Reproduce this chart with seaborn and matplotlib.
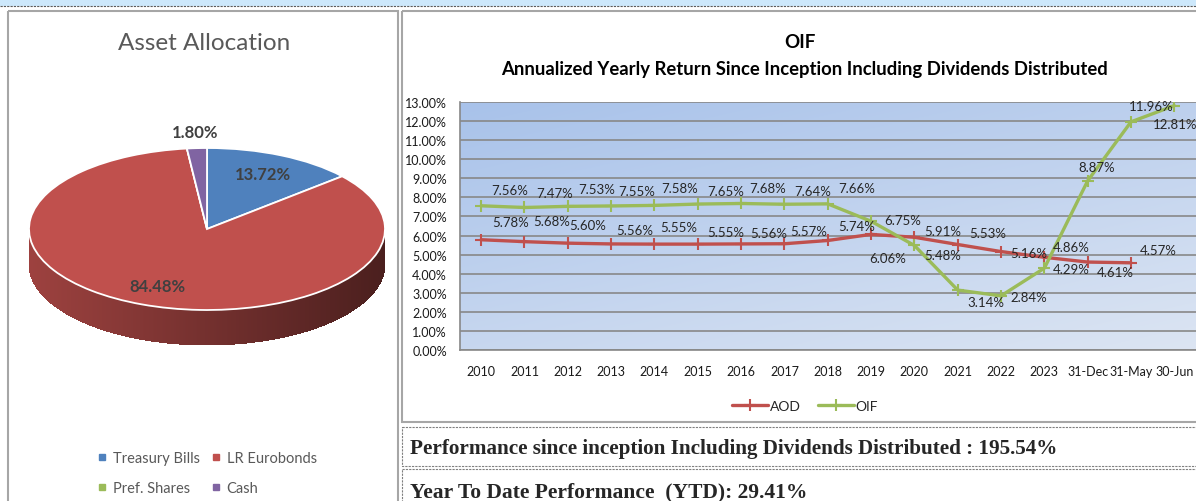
"""
    OIF factsheet panel: asset allocation pie and annualized return lines.
"""

import numpy as np
import pandas as pd
import matplotlib
matplotlib.use("Agg")
import matplotlib.pyplot as plt
import matplotlib.ticker as mtick
import matplotlib.patches as mpatches
import matplotlib.lines as mlines
from matplotlib.collections import PolyCollection
from matplotlib.colors import to_rgb
import seaborn as sns

# Asset allocation
assets = ['Treasury Bills', 'LR Eurobonds', 'Pref. Shares', 'Cash']
asset_share = [13.72, 84.48, 0.0, 1.80]
ASSET_COLORS = ['#4F81BD', '#C0504D', '#9BBB59', '#8064A2']

# Annualized yearly return since inception (%)
periods = ['2010', '2011', '2012', '2013', '2014', '2015', '2016', '2017', '2018',
           '2019', '2020', '2021', '2022', '2023', '31-Dec', '31-May', '30-Jun']
aod = [5.78, 5.68, 5.60, 5.56, 5.55, 5.55, 5.56, 5.57, 5.74,
       6.06, 5.91, 5.53, 5.16, 4.86, 4.61, 4.57, np.nan]
oif = [7.56, 7.47, 7.53, 7.55, 7.58, 7.65, 7.68, 7.64, 7.66,
       6.75, 5.48, 3.14, 2.84, 4.29, 8.87, 11.96, 12.81]
SERIES_COLORS = {'AOD': '#C0504D', 'OIF': '#9BBB59'}

perf_since_inception = 195.54
ytd_perf = 29.41

# label offsets in pixels (dx, dy downwards), Excel had them hand placed
AOD_OFFSETS = [(29, -18), (27, -21), (20, -18), (24, -14), (24, -17), (28, -12),
               (28, -11), (24, -13), (29, -14), (17, 24), (28, -6), (30, -12),
               (28, 1), (27, -10), (28, 10), (27, -13), (0, 0)]
OIF_OFFSETS = [(29, -16), (30, -14), (29, -17), (26, -15), (25, -17), (28, -13),
               (27, -15), (28, -13), (29, -16), (32, -1), (28, 10), (28, 12),
               (28, 1), (27, 1), (9, -14), (20, -16), (1, 18)]
PIE_LABEL_R = [0.75, 0.76, 0.0, 1.2]

sns.set_style("white")
plt.rcParams['font.family'] = ['Lato', 'DejaVu Sans']

W, H = 1196, 502


def px_box(x0, y0, x1, y1):
    return [x0 / W, 1 - y1 / H, (x1 - x0) / W, (y1 - y0) / H]


fig = plt.figure(figsize=(W / 100, H / 100), dpi=100)

# background layer in pixel coordinates
bg = fig.add_axes([0, 0, 1, 1])
bg.set_xlim(0, W)
bg.set_ylim(H, 0)
bg.axis('off')

bg.add_patch(mpatches.Rectangle((0, -2), W, 9, facecolor='#CDE8FB', edgecolor='none'))
bg.plot([0, W], [7, 7], color='#5A5A5A', lw=0.8, ls=(0, (2, 1)))
bg.add_patch(mpatches.Rectangle((8, 12), 390, 500, fill=False, edgecolor='#A6A6A6', lw=1.5))
bg.add_patch(mpatches.Rectangle((401.5, 12), 800, 411, fill=False, edgecolor='#A6A6A6', lw=1.5))
bg.add_patch(mpatches.Rectangle((402, 428), 800, 39, fill=False, edgecolor='#7F7F7F',
                                lw=0.8, ls=(0, (2, 1))))
bg.add_patch(mpatches.Rectangle((402, 470), 800, 40, fill=False, edgecolor='#7F7F7F',
                                lw=0.8, ls=(0, (2, 1))))

bg.text(204, 43, 'Asset Allocation', ha='center', va='center', fontsize=17.5, color='#595959')
bg.text(800, 42, 'OIF', ha='center', va='center', fontsize=13.5, fontweight='bold', color='black')
t_sub = bg.text(804, 70, 'Annualized Yearly Return Since Inception Including Dividends Distributed',
                ha='center', va='center', fontsize=12.5, fontweight='bold', color='black')

t_perf = bg.text(410, 454, f'Performance since inception Including Dividends Distributed : {perf_since_inception:.2f}%',
                 ha='left', va='baseline', fontsize=14, fontweight='bold', family='Liberation Serif')
t_ytd = bg.text(410, 497, f'Year To Date Performance  (YTD): {ytd_perf:.2f}%',
                ha='left', va='baseline', fontsize=14, fontweight='bold', family='Liberation Serif')


def fit_width(txt, target):
    w = txt.get_window_extent(renderer=fig.canvas.get_renderer()).width
    txt.set_fontsize(txt.get_fontsize() * target / w)


fit_width(t_sub, 607)
fit_width(t_perf, 653)
fit_width(t_ytd, 397)

# ---- 3D-ish pie ----
x0, y0, x1, y1 = 8, 90, 398, 380
cx, cy, rx, ry, depth = 207, 230, 178, 81, 35
ax_pie = fig.add_axes(px_box(x0, y0, x1, y1))
wedges, _ = ax_pie.pie(asset_share, colors=ASSET_COLORS, startangle=90, counterclock=False,
                       wedgeprops=dict(edgecolor='white', linewidth=1.3))
ax_pie.set_aspect('auto')
ax_pie.set_xlim((x0 - cx) / rx, (x1 - cx) / rx)
ax_pie.set_ylim((cy - y1) / ry, (cy - y0) / ry)

# side wall for the front half, shaded left to right
d = depth / ry
step = 0.5
polys, cols = [], []
for a in np.arange(180, 360, step):
    a1, a2 = np.radians(a), np.radians(a + step * 1.6)
    mid = a + step / 2
    base = ASSET_COLORS[1]
    for w, c in zip(wedges, ASSET_COLORS):
        if w.theta2 - w.theta1 > 0 and (mid - w.theta1) % 360 <= (w.theta2 - w.theta1):
            base = c
    shade = 0.82 - 0.43 * (np.cos(np.radians(mid)) + 1) / 2
    polys.append([(np.cos(a1), np.sin(a1)), (np.cos(a2), np.sin(a2)),
                  (np.cos(a2), np.sin(a2) - d), (np.cos(a1), np.sin(a1) - d)])
    cols.append(tuple(np.array(to_rgb(base)) * shade))
ax_pie.add_collection(PolyCollection(polys, facecolors=cols, edgecolors='none', lw=0,
                                     antialiased=False, zorder=0.5))

for w, v, r in zip(wedges, asset_share, PIE_LABEL_R):
    if v <= 0:
        continue
    mid = np.radians((w.theta1 + w.theta2) / 2)
    ax_pie.text(r * np.cos(mid), r * np.sin(mid), f'{v:.2f}%', ha='center', va='center',
                fontsize=12, fontweight='bold', color='#404040')

pie_handles = [mlines.Line2D([], [], marker='s', ls='none', markersize=4.5,
                             color=c, label=n) for n, c in zip(assets, ASSET_COLORS)]
order = [0, 2, 1, 3]
fig.legend(handles=[pie_handles[i] for i in order], ncol=2, loc='center',
           bbox_to_anchor=(207 / W, 1 - 474 / H), frameon=False, fontsize=10.5,
           labelcolor='#595959', handlelength=0.6, handletextpad=0.45,
           columnspacing=0.8, labelspacing=1.05)

# ---- line chart ----
ax = fig.add_axes(px_box(459.5, 103, 1196, 351))
grad_y = np.linspace(1, 0, 200)[:, None]
grad_x = np.linspace(0, 1, 300)[None, :]
wgt = 0.6 * grad_y + 0.4 * (1 - grad_x)
light = np.array(to_rgb('#DCE5F3'))
dark = np.array(to_rgb('#A8C2EA'))
img = light + (dark - light) * wgt[..., None]
ax.imshow(img, extent=[0, 1, 0, 1], transform=ax.transAxes, aspect='auto', zorder=-1)

df = pd.DataFrame({'pos': np.arange(len(periods)), 'AOD': aod, 'OIF': oif})
long = df.melt(id_vars='pos', var_name='Series', value_name='Return').dropna()

sns.lineplot(data=long, x='pos', y='Return', hue='Series', palette=SERIES_COLORS,
             marker='+', markersize=9, linewidth=2.4, legend=False, ax=ax)
for ln in ax.lines:
    ln.set_markeredgecolor(ln.get_color())
    ln.set_markeredgewidth(1.5)

for name, vals, offs in [('AOD', aod, AOD_OFFSETS), ('OIF', oif, OIF_OFFSETS)]:
    for i, (v, (dx, dy)) in enumerate(zip(vals, offs)):
        if np.isnan(v):
            continue
        ax.annotate(f'{v:.2f}%', (i, v), xytext=(dx, -dy), textcoords='offset pixels',
                    ha='center', va='center', fontsize=9.5, color='#262626',
                    annotation_clip=False)

ax.set_xlim(-0.5, len(periods) - 0.5)
ax.set_ylim(0, 13)
ax.set_yticks(np.arange(0, 14, 1))
ax.yaxis.set_major_formatter(mtick.PercentFormatter(xmax=100, decimals=2))
ax.set_xticks(np.arange(len(periods)))
ax.set_xticklabels(periods)
ax.set_xlabel('')
ax.set_ylabel('')
ax.yaxis.grid(True, color='#888888', lw=1.2)
ax.xaxis.grid(False)
ax.set_axisbelow(True)
ax.tick_params(axis='y', length=0, pad=9, labelsize=9, labelcolor='#1A1A1A')
ax.tick_params(axis='x', length=0, pad=11, labelsize=9, labelcolor='#1A1A1A')
for s in ['top', 'right']:
    ax.spines[s].set_visible(False)
for s in ['left', 'bottom']:
    ax.spines[s].set_color('#888888')
    ax.spines[s].set_linewidth(1.2)

line_handles = [mlines.Line2D([], [], color=c, lw=2.4, marker='+', markersize=9,
                              markeredgewidth=1.5, label=n) for n, c in SERIES_COLORS.items()]
fig.legend(handles=line_handles, ncol=2, loc='center',
           bbox_to_anchor=(805 / W, 1 - 407 / H), frameon=False, fontsize=10,
           handlelength=2.6, handletextpad=0.15, columnspacing=1.2)

fig.savefig('out.png', dpi=100)
